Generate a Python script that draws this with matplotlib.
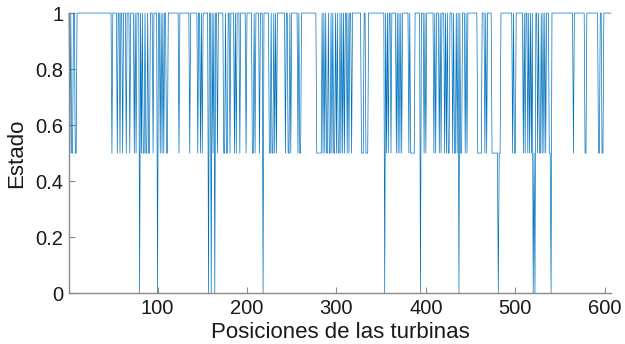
import numpy as np
import matplotlib
matplotlib.use("Agg")
import matplotlib.pyplot as plt
from matplotlib.ticker import FixedLocator, FixedFormatter

plt.rcParams['font.family'] = ['Liberation Sans', 'DejaVu Sans']

# Turbine state per position: 1 by default, 0.5 and 0 where listed
n_positions = 607
half_positions = [
    2, 4, 5, 8, 9,
    49, 55, 58, 61, 65, 69, 74, 76,
    82, 84, 85, 87, 88, 90, 91, 95,
    103, 105, 107, 110, 111, 124, 136, 145,
    148, 150, 162, 167, 174, 175, 177, 178, 181, 186, 188, 192, 199,
    206, 207, 209, 214, 225, 226, 228,
    229, 231, 233, 243, 246, 247, 249, 257, 259, 260,
    278, 279, 280, 281, 282, 283,
    285, 287, 289, 290, 292, 293, 295, 297, 298, 300, 302, 303, 305, 307,
    309, 312, 314, 317,
    328, 329, 330, 333, 334, 335,
    356, 358, 361, 367, 369, 371, 373, 381, 383,
    384, 385, 386, 387, 398, 400, 409, 411, 415, 417, 421, 423, 425, 426,
    430, 432, 433, 435, 439, 440, 444, 446,
    458, 459, 460, 461, 462, 466, 468, 474, 475, 476, 477, 478, 479, 480,
    482, 483,
    497, 499, 500, 509, 511, 514, 516, 518, 521,
    525, 527, 528, 530, 532, 534, 538, 539,
    565, 578, 579, 593, 594, 597, 598,
]
zero_positions = [80, 100, 157, 160, 164, 218, 354, 394, 437, 481, 520, 522, 540]

x_ticks = [100, 200, 300, 400, 500, 600]
y_ticks = [0, 0.2, 0.4, 0.6, 0.8, 1]
y_tick_labels = ['0', '0.2', '0.4', '0.6', '0.8', '1']

positions = np.arange(1, n_positions + 1)
state = np.ones(n_positions)
state[np.array(half_positions) - 1] = 0.5
state[np.array(zero_positions) - 1] = 0.0

fig = plt.figure(figsize=(6.25, 3.44), dpi=100)
ax = fig.add_axes([0.1104, 0.148, 0.8672, 0.814])

ax.plot(positions, state, color='#0072BD', linewidth=0.5, clip_on=False)

ax.set_xlim(1, n_positions)
ax.set_ylim(0, 1)

ax.xaxis.set_major_locator(FixedLocator(x_ticks))
ax.yaxis.set_major_locator(FixedLocator(y_ticks))
ax.yaxis.set_major_formatter(FixedFormatter(y_tick_labels))

for side in ('top', 'right'):
    ax.spines[side].set_visible(False)
for side in ('left', 'bottom'):
    ax.spines[side].set_color('#8a8a8a')
    ax.spines[side].set_linewidth(1.0)

ax.tick_params(direction='in', length=4, width=0.8, color='#8a8a8a',
               labelsize=14.5, labelcolor='#1a1a1a', pad=4)

ax.set_xlabel('Posiciones de las turbinas', fontsize=16, color='#1a1a1a', labelpad=3)
ax.set_ylabel('Estado', fontsize=16, color='#1a1a1a', labelpad=6)

fig.savefig('out.png', dpi=100)
